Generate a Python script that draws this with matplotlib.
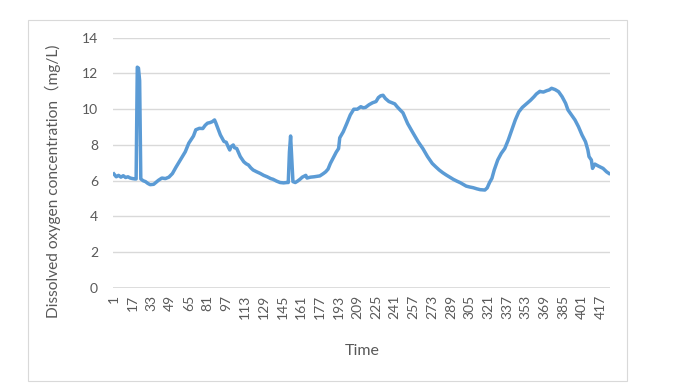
import matplotlib.pyplot as plt
from matplotlib.patches import Rectangle

# values (time index, dissolved oxygen mg/L)
time = [1, 3, 5, 7, 9, 11, 13, 15, 17, 19, 20, 21, 22, 23, 24,
        26, 28, 30, 32, 35, 39, 42, 45, 48, 51, 54, 56, 59, 62, 65, 69,
        71, 74, 77, 79, 81, 83, 85, 87, 88, 90, 92, 95, 97, 99, 100, 101,
        103, 104, 106, 109, 112, 114, 116, 118, 120, 123, 126, 129, 132,
        135, 137, 140, 143, 146, 149, 150, 151, 152, 153, 154,
        156, 158, 160, 162, 165, 166, 169, 172, 175, 177, 180, 182, 184,
        186, 189, 191, 193, 194, 197, 200, 203, 206, 209, 212, 214, 216,
        219, 222, 225, 227, 229, 231, 233, 236, 238, 241, 243, 245, 248,
        252, 256, 261, 265, 269, 273, 276, 279, 282, 285, 288, 291, 294,
        297, 300, 302, 305, 308, 311, 314, 318, 320, 322, 324, 326, 329,
        332, 335, 338, 341, 344, 347, 350, 354, 357, 360, 362, 364, 365,
        366, 368, 371, 373, 375, 378, 381, 384, 387, 389, 392, 395, 398,
        401, 404, 406, 407, 409, 410, 412, 415, 419, 422, 424]
oxygen = [6.38, 6.22, 6.3, 6.2, 6.28, 6.18, 6.22, 6.15, 6.12, 6.1, 6.1, 12.35, 12.3, 11.6, 6.1,
          6.0, 5.95, 5.85, 5.78, 5.8, 6.02, 6.15, 6.12, 6.2, 6.4, 6.75, 6.97, 7.3, 7.62, 8.1, 8.5,
          8.85, 8.93, 8.92, 9.1, 9.22, 9.25, 9.3, 9.4, 9.25, 8.9, 8.56, 8.2, 8.15, 7.85, 7.72, 7.9,
          8.0, 7.85, 7.8, 7.35, 7.06, 6.95, 6.88, 6.72, 6.6, 6.5, 6.41, 6.3, 6.22,
          6.12, 6.08, 5.98, 5.9, 5.88, 5.9, 5.9, 7.6, 8.5, 7.2, 5.95,
          5.9, 5.98, 6.08, 6.2, 6.3, 6.15, 6.2, 6.22, 6.25, 6.27, 6.4, 6.5, 6.65,
          6.97, 7.35, 7.6, 7.8, 8.4, 8.74, 9.2, 9.68, 10.0, 10.0, 10.14, 10.08, 10.1,
          10.25, 10.36, 10.43, 10.65, 10.75, 10.78, 10.6, 10.43, 10.38, 10.3, 10.14, 10.0, 9.8,
          9.2, 8.74, 8.18, 7.8, 7.35, 6.97, 6.78, 6.6, 6.45, 6.32, 6.2, 6.08, 5.98,
          5.89, 5.78, 5.7, 5.65, 5.61, 5.55, 5.5, 5.48, 5.6, 5.9, 6.13, 6.6, 7.16,
          7.53, 7.8, 8.28, 8.84, 9.4, 9.85, 10.1, 10.33, 10.5, 10.7, 10.85, 10.95, 11.0,
          10.98, 10.96, 11.04, 11.08, 11.17, 11.1, 10.98, 10.7, 10.33, 9.96, 9.68, 9.4, 9.02,
          8.56, 8.18, 7.72, 7.35, 7.16, 6.69, 6.93, 6.82, 6.69, 6.5, 6.41]

xticks = list(range(1, 418, 16))
yticks = list(range(0, 15, 2))

LINE = "#5b9bd5"
TEXT = "#595959"
GRID = "#d9d9d9"
FONT = ["Lato", "Noto Sans CJK SC", "DejaVu Sans"]

fig = plt.figure(figsize=(6.89, 3.89), dpi=100)
fig.patch.set_facecolor("white")
fig.patches.append(Rectangle((28 / 689, 1 - 381 / 389), 599 / 689, 361 / 389,
                             transform=fig.transFigure, fill=False,
                             edgecolor=GRID, linewidth=0.8))

ax = fig.add_axes([113.3 / 689, 1 - 288 / 389, 496.2 / 689, 250.3 / 389])
ax.plot(time, oxygen, color=LINE, linewidth=2.5, solid_joinstyle="round")

ax.set_xlim(0.5, 424.5)
ax.set_ylim(0, 14)
ax.set_xticks(xticks)
ax.set_xticklabels([str(t) for t in xticks], rotation=90, family=FONT,
                   fontsize=10, color=TEXT)
ax.set_yticks(yticks)
ax.set_yticklabels([str(v) for v in yticks], family=FONT, fontsize=10, color=TEXT)
ax.tick_params(axis="both", length=0)
ax.tick_params(axis="y", pad=11)
ax.tick_params(axis="x", pad=5)
ax.grid(axis="y", color=GRID, linewidth=1.0)
ax.set_axisbelow(True)
for s in ax.spines.values():
    s.set_visible(False)
ax.axhline(0, color=GRID, linewidth=1.2, zorder=0)

fig.text(362 / 689, 1 - 351 / 389, "Time", ha="center", va="center",
         family=FONT, fontsize=11.5, color=TEXT)
fig.text(53 / 689, 1 - 181 / 389, "Dissolved oxygen concentration（mg/L)",
         rotation=90, ha="center", va="center", family=FONT, fontsize=11.2,
         color=TEXT)

fig.savefig("out.png", dpi=100, facecolor="white")
